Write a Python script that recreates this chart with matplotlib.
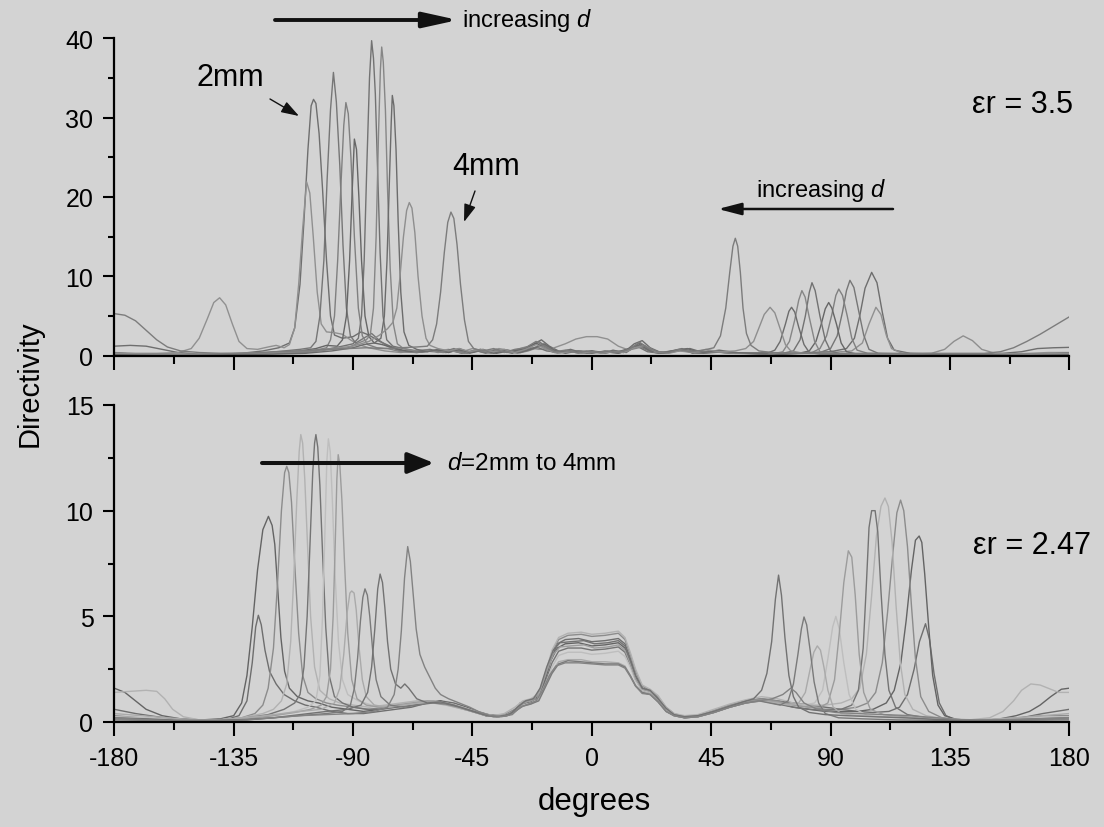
import matplotlib
matplotlib.use("Agg")
import matplotlib.pyplot as plt
from matplotlib.patches import FancyArrowPatch
from matplotlib.ticker import MultipleLocator

# ---- eps_r = 3.5 (top panel): (angle deg, directivity) ----
T1 = [(-180, 1.2), (-174, 1.3), (-168, 1.2), (-162, 0.8), (-156, 0.4), (-148, 0.2), (-140, 0.2), (-132, 0.3),
      (-124, 0.6), (-118, 1.0), (-114, 1.6), (-112, 3.5), (-110, 9), (-108.5, 17), (-107, 26), (-105.8, 31.5),
      (-104.9, 32.3), (-104, 31.8), (-102.8, 28), (-101.5, 21), (-100, 12), (-98.5, 5), (-97, 2.6), (-94, 2.2),
      (-90, 2.4), (-87, 3.0), (-84, 2.6), (-80, 1.8), (-76, 1.2), (-72, 0.6), (-66, 0.4), (-60, 0.6), (-55, 0.4),
      (-50, 0.7), (-46, 0.3), (-42, 0.8), (-38, 0.4), (-34, 0.6), (-30, 0.3), (-26, 0.9), (-22, 1.4), (-19, 2.0),
      (-16, 1.2), (-12, 0.5), (-8, 0.8), (-4, 0.4), (0, 0.6), (4, 0.3), (8, 0.7), (12, 0.4), (16, 1.5), (19, 1.9),
      (22, 1.0), (26, 0.4), (30, 0.6), (34, 0.9), (38, 0.3), (44, 0.6), (50, 0.4), (58, 0.3), (66, 0.4), (74, 0.3),
      (82, 0.4), (90, 0.5), (96, 0.9), (99, 2.2), (101, 5), (103, 8.5), (105.5, 10.5), (107.5, 9.2), (109.5, 5.5),
      (111.5, 2.2), (114, 0.7), (120, 0.3), (130, 0.2), (145, 0.2), (155, 0.3), (162, 0.5), (168, 0.9), (174, 1.0),
      (180, 1.05)]
T2 = [(-180, 0.4), (-172, 0.3), (-164, 0.3), (-156, 0.4), (-151, 0.9), (-148, 2.2), (-145, 4.6), (-142.5, 6.7),
      (-140.3, 7.3), (-138, 6.4), (-135.5, 4.0), (-133, 1.8), (-130, 0.9), (-126, 0.8), (-122, 1.1), (-119, 1.3),
      (-116, 1.0), (-114, 1.4), (-112, 3.5), (-110.5, 9), (-109, 16), (-107.5, 21.9), (-106.3, 20.5), (-105, 15),
      (-103.5, 8), (-102, 4), (-100, 3.0), (-97, 2.9), (-94, 2.7), (-91, 2.0), (-88, 1.4), (-84, 1.0), (-78, 0.6),
      (-72, 0.4), (-66, 0.7), (-60, 0.5), (-54, 0.8), (-50, 0.4), (-45, 0.9), (-40, 0.5), (-35, 0.9), (-30, 0.6),
      (-25, 1.1), (-20, 0.8), (-15, 0.9), (-10, 1.5), (-6, 2.1), (-2, 2.4), (2, 2.4), (6, 2.1), (10, 1.2), (14, 0.7),
      (18, 1.3), (22, 0.6), (28, 0.4), (33, 0.7), (38, 0.4), (45, 0.5), (52, 0.4), (60, 0.3), (70, 0.3), (80, 0.3),
      (90, 0.4), (98, 0.6), (102, 1.6), (104.5, 4.0), (107.1, 6.1), (109, 5.2), (111, 2.6), (113, 0.9), (117, 0.3),
      (125, 0.2), (140, 0.2), (155, 0.2), (165, 0.3), (172, 0.4), (180, 0.4)]
T3 = [(-180, 0.3), (-170, 0.2), (-160, 0.2), (-150, 0.1), (-140, 0.2), (-130, 0.3), (-122, 0.4), (-116, 0.6),
      (-110, 0.8), (-106, 1.0), (-104, 1.8), (-102.5, 5), (-101, 12), (-99.8, 22), (-98.5, 31), (-97.4, 35.7),
      (-96.3, 32), (-95, 24), (-93.8, 14), (-92.5, 6), (-91, 2.5), (-89, 1.6), (-86, 2.2), (-83, 2.8), (-80, 1.9),
      (-77, 1.2), (-73, 0.7), (-68, 0.5), (-62, 0.6), (-56, 0.5), (-52, 0.9), (-48, 0.4), (-44, 0.7), (-40, 0.3),
      (-36, 0.8), (-32, 0.4), (-28, 0.7), (-24, 0.9), (-20, 1.8), (-17, 1.1), (-13, 0.4), (-9, 0.7), (-5, 0.3),
      (0, 0.5), (5, 0.3), (9, 0.6), (13, 0.4), (17, 1.3), (21, 0.7), (25, 0.3), (30, 0.5), (35, 0.8), (40, 0.3),
      (46, 0.5), (52, 0.3), (60, 0.3), (70, 0.2), (80, 0.3), (86, 0.4), (90, 0.9), (92.5, 2.5), (94.5, 5.5),
      (96, 8.2), (97.3, 9.5), (98.8, 8.6), (100.5, 5.8), (102.5, 2.6), (104.5, 0.8), (108, 0.3), (120, 0.2),
      (135, 0.1), (150, 0.15), (165, 0.2), (180, 0.3)]
T4 = [(-180, 0.2), (-168, 0.15), (-155, 0.1), (-140, 0.15), (-128, 0.2), (-118, 0.3), (-110, 0.5), (-104, 0.7),
      (-100, 1.0), (-98.5, 2.0), (-97, 5), (-95.8, 12), (-94.5, 22), (-93.5, 29), (-92.7, 31.9), (-91.8, 30.5),
      (-90.8, 25), (-89.5, 15), (-88, 6), (-86.5, 2.5), (-84.5, 1.4), (-81, 1.0), (-77, 0.9), (-72, 0.5), (-66, 0.4),
      (-60, 0.6), (-56, 0.4), (-52, 0.7), (-47, 0.3), (-43, 0.6), (-38, 0.3), (-33, 0.7), (-28, 0.4), (-23, 0.8),
      (-18, 1.4), (-14, 0.6), (-9, 0.5), (-4, 0.6), (1, 0.4), (6, 0.5), (11, 0.4), (16, 1.1), (19, 1.4), (23, 0.5),
      (28, 0.3), (34, 0.7), (40, 0.3), (48, 0.5), (56, 0.3), (66, 0.2), (76, 0.3), (83, 0.4), (86, 0.9), (88.5, 2.5),
      (90.5, 5.2), (92, 7.6), (93.1, 8.4), (94.5, 7.6), (96.3, 5.0), (98, 2.2), (100, 0.7), (104, 0.3), (115, 0.2),
      (130, 0.1), (150, 0.1), (165, 0.15), (180, 0.2)]
T5 = [(-180, 0.3), (-170, 0.2), (-160, 0.15), (-150, 0.1), (-140, 0.2), (-128, 0.3), (-118, 0.4), (-110, 0.6),
      (-104, 0.9), (-100, 1.3), (-96, 1.2), (-94, 2.0), (-92.5, 5), (-91.3, 12), (-90.3, 21), (-89.5, 27.3),
      (-88.7, 26), (-87.8, 20), (-86.8, 12), (-85.5, 5), (-84, 2.4), (-82, 1.6), (-79, 1.4), (-75, 1.0), (-70, 0.6),
      (-64, 0.5), (-58, 0.7), (-54, 0.4), (-50, 0.8), (-45, 0.4), (-41, 0.7), (-36, 0.3), (-31, 0.6), (-26, 0.8),
      (-21, 1.6), (-18, 1.0), (-14, 0.4), (-10, 0.6), (-5, 0.4), (0, 0.6), (5, 0.4), (10, 0.5), (15, 1.0), (18, 1.6),
      (22, 0.8), (27, 0.3), (32, 0.6), (36, 0.9), (41, 0.4), (47, 0.6), (54, 0.3), (62, 0.3), (72, 0.2), (78, 0.3),
      (82, 0.6), (84.5, 1.8), (86.5, 4.0), (88, 5.9), (89.3, 6.7), (90.5, 6.0), (92.3, 3.9), (94, 1.6), (96, 0.5),
      (100, 0.2), (115, 0.1), (135, 0.1), (155, 0.15), (170, 0.2), (180, 0.3)]
T6 = [(-180, 0.2), (-165, 0.15), (-150, 0.1), (-135, 0.2), (-120, 0.3), (-108, 0.5), (-100, 0.8), (-94, 1.2),
      (-90, 1.5), (-88, 2.2), (-86.8, 5), (-85.8, 12), (-84.8, 24), (-83.8, 35), (-83.0, 39.7), (-82.3, 37.5),
      (-81.6, 33), (-80.8, 24), (-79.8, 13), (-78.7, 5), (-77.3, 2.0), (-75, 1.2), (-71, 0.9), (-66, 0.6),
      (-61, 0.8), (-57, 0.5), (-53, 0.7), (-49, 0.3), (-44, 0.6), (-39, 0.4), (-35, 0.7), (-30, 0.4), (-25, 0.7),
      (-21, 1.1), (-17, 0.6), (-12, 0.4), (-7, 0.6), (-2, 0.3), (3, 0.5), (8, 0.4), (13, 0.7), (17, 1.2), (21, 0.5),
      (26, 0.3), (31, 0.6), (36, 0.7), (42, 0.3), (50, 0.5), (58, 0.3), (66, 0.2), (72, 0.3), (76, 0.6), (78.5, 2.0),
      (80.5, 5.0), (82, 8.0), (83.0, 9.2), (84.2, 8.2), (86, 5.0), (88, 2.0), (90, 0.6), (94, 0.2), (110, 0.15),
      (130, 0.1), (150, 0.1), (168, 0.15), (180, 0.2)]
T7 = [(-180, 0.2), (-165, 0.2), (-150, 0.15), (-135, 0.2), (-120, 0.3), (-108, 0.4), (-98, 0.8), (-92, 1.0),
      (-88, 1.6), (-85, 2.0), (-83.5, 2.6), (-82.3, 6), (-81.3, 15), (-80.4, 28), (-79.7, 36), (-79.2, 38.9),
      (-78.6, 37), (-77.8, 31), (-77, 21), (-76, 11), (-74.8, 4), (-73.3, 1.5), (-71, 0.9), (-67, 0.6), (-62, 0.7),
      (-58, 0.4), (-53, 0.6), (-48, 0.3), (-43, 0.7), (-38, 0.4), (-33, 0.6), (-28, 0.3), (-24, 0.6), (-19, 1.2),
      (-15, 0.5), (-10, 0.4), (-5, 0.5), (0, 0.4), (5, 0.5), (10, 0.3), (15, 0.8), (19, 1.1), (24, 0.4), (29, 0.5),
      (34, 0.8), (39, 0.4), (46, 0.5), (54, 0.3), (62, 0.3), (68, 0.2), (72, 0.5), (74.5, 1.8), (76.5, 4.5),
      (78, 7.0), (79.2, 8.2), (80.4, 7.4), (82, 4.8), (84, 1.8), (86, 0.5), (90, 0.2), (105, 0.15), (125, 0.1),
      (145, 0.1), (165, 0.15), (180, 0.2)]
T8 = [(-180, 0.15), (-165, 0.1), (-150, 0.1), (-135, 0.15), (-120, 0.2), (-108, 0.3), (-98, 0.6), (-90, 1.0),
      (-86, 1.4), (-82, 1.6), (-79.5, 2.2), (-78.2, 5), (-77.2, 12), (-76.3, 22), (-75.6, 29.5), (-75.2, 32.8),
      (-74.6, 31.5), (-73.8, 26), (-73, 17), (-72, 8), (-70.8, 3), (-69, 1.3), (-66, 0.8), (-62, 0.5), (-58, 0.8),
      (-54, 0.5), (-50, 0.9), (-46, 0.4), (-41, 0.8), (-37, 0.3), (-32, 0.7), (-27, 0.4), (-22, 0.9), (-18, 1.5),
      (-14, 0.7), (-10, 0.3), (-5, 0.6), (0, 0.3), (5, 0.6), (10, 0.3), (15, 0.9), (18, 1.4), (22, 0.6), (27, 0.4),
      (32, 0.7), (37, 0.9), (42, 0.4), (48, 0.7), (54, 0.4), (60, 0.3), (66, 0.3), (69, 0.7), (71, 1.8), (73, 4.0),
      (74.3, 5.6), (75.3, 6.1), (76.5, 5.5), (78, 3.6), (80, 1.4), (82, 0.4), (86, 0.2), (100, 0.15), (120, 0.1),
      (140, 0.1), (160, 0.1), (180, 0.15)]
T9 = [(-180, 0.3), (-165, 0.2), (-150, 0.2), (-135, 0.3), (-120, 0.4), (-108, 0.6), (-98, 0.9), (-90, 1.2),
      (-84, 1.8), (-80, 2.6), (-77, 3.4), (-75, 4.2), (-73.5, 6), (-72.3, 10), (-71, 15), (-69.8, 18.3),
      (-68.8, 19.3), (-67.8, 18.6), (-66.7, 15.5), (-65.5, 10), (-64, 5), (-62.5, 2.2), (-61, 1.3), (-58, 0.9),
      (-54, 0.6), (-50, 0.9), (-46, 0.5), (-42, 0.8), (-37, 0.5), (-33, 0.8), (-29, 0.4), (-25, 0.8), (-21, 1.4),
      (-17, 0.8), (-13, 0.3), (-8, 0.5), (-4, 0.3), (0, 0.5), (4, 0.3), (8, 0.5), (12, 0.4), (16, 1.0), (20, 1.3),
      (24, 0.5), (29, 0.3), (33, 0.6), (38, 0.4), (43, 0.8), (48, 0.5), (54, 0.6), (58, 0.9), (61, 1.8), (63, 3.5),
      (65, 5.2), (67.2, 6.1), (69, 5.4), (71, 3.4), (73, 1.4), (75, 0.6), (80, 0.3), (95, 0.2), (115, 0.2),
      (128, 0.3), (133, 0.8), (136.5, 1.8), (140, 2.5), (143.5, 1.9), (147, 0.8), (152, 0.3), (165, 0.2), (180, 0.3)]
T10 = [(-180, 5.3), (-176, 5.1), (-172, 4.4), (-168, 3.2), (-164, 2.0), (-160, 1.1), (-155, 0.6), (-148, 0.4),
       (-140, 0.3), (-130, 0.3), (-120, 0.5), (-110, 0.6), (-100, 0.8), (-92, 0.9), (-85, 1.0), (-78, 0.9),
       (-72, 1.0), (-66, 1.1), (-62, 1.2), (-60, 2.0), (-58.5, 4), (-57, 8), (-55.6, 13), (-54.3, 16.8),
       (-53.1, 18.1), (-52, 17.3), (-50.8, 14), (-49.5, 9), (-48, 4.5), (-46.5, 1.8), (-44.5, 0.9), (-41, 0.6),
       (-37, 0.9), (-33, 0.4), (-29, 0.8), (-25, 1.0), (-21, 1.8), (-18, 1.2), (-14, 0.5), (-10, 0.7), (-6, 0.4),
       (-2, 0.6), (2, 0.4), (6, 0.6), (10, 0.4), (14, 0.8), (18, 1.7), (21, 1.0), (25, 0.5), (29, 0.4), (33, 0.8),
       (37, 0.5), (42, 0.7), (46, 1.0), (48.5, 2.5), (50.5, 6), (52, 10.5), (53.2, 13.8), (54.1, 14.8), (55, 13.8),
       (56, 10.5), (57, 6), (58.3, 2.8), (60, 1.3), (63, 0.6), (68, 0.4), (76, 0.3), (90, 0.3), (105, 0.3),
       (120, 0.3), (135, 0.3), (148, 0.3), (154, 0.5), (159, 1.0), (164, 1.8), (169, 2.7), (174, 3.7), (178, 4.5),
       (180, 4.9)]

# ---- eps_r = 2.47 (bottom panel) ----
B1 = [(-180, 0.6), (-172, 0.4), (-164, 0.25), (-155, 0.1), (-146, 0.05), (-138, 0.1), (-133, 0.3), (-130, 1.0),
      (-128, 2.8), (-126.7, 4.5), (-125.7, 5.05), (-124.6, 4.6), (-123.2, 3.4), (-121.5, 2.4), (-119, 1.8),
      (-116, 1.3), (-112, 1.0), (-108, 0.8), (-104, 0.7), (-98, 0.5), (-92, 0.4), (-86, 0.4), (-80, 0.5), (-74, 0.6),
      (-68, 0.7), (-62, 0.9), (-57, 1.0), (-52, 0.9), (-47, 0.7), (-43, 0.5), (-39, 0.35), (-35, 0.3), (-31, 0.35),
      (-28, 0.7), (-25, 1.0), (-21, 1.15), (-18, 1.8), (-15.5, 2.9), (-13, 3.7), (-10, 3.9), (-5, 3.95), (0, 3.8),
      (5, 3.85), (10, 3.95), (12.5, 3.7), (14.5, 3.0), (16.5, 2.2), (19, 1.6), (22, 1.45), (25, 1.1), (28, 0.6),
      (31, 0.35), (35, 0.25), (40, 0.3), (46, 0.5), (52, 0.8), (58, 1.0), (64, 1.1), (70, 1.0), (76, 0.9), (82, 0.8),
      (88, 0.7), (94, 0.6), (100, 0.5), (106, 0.45), (112, 0.5), (116, 0.7), (119, 1.3), (121.5, 2.5), (123.5, 3.8),
      (125.8, 4.65), (127.3, 3.9), (129, 2.3), (131, 0.9), (133.5, 0.3), (137, 0.1), (145, 0.05), (153, 0.1),
      (162, 0.2), (170, 0.4), (180, 0.6)]
B2 = [(-180, 1.6), (-176, 1.4), (-172, 1.0), (-168, 0.6), (-162, 0.3), (-155, 0.15), (-147, 0.1), (-140, 0.15),
      (-135, 0.3), (-132, 0.9), (-130, 2.2), (-128, 4.5), (-126, 7.2), (-124, 9.1), (-121.9, 9.73), (-120.5, 9.3),
      (-119.5, 8.4), (-118.5, 6.5), (-117.2, 4.0), (-115.8, 2.4), (-114, 1.6), (-111, 1.2), (-107, 1.0), (-103, 0.9),
      (-98, 0.7), (-92, 0.6), (-86, 0.5), (-80, 0.6), (-74, 0.7), (-68, 0.8), (-62, 0.9), (-57, 1.0), (-53, 0.8),
      (-48, 0.6), (-44, 0.5), (-40, 0.3), (-36, 0.25), (-32, 0.3), (-29, 0.5), (-27, 0.9), (-24, 1.0), (-21, 1.2),
      (-18, 1.9), (-15.5, 2.9), (-13, 3.5), (-10, 3.7), (-5, 3.75), (0, 3.6), (5, 3.65), (10, 3.75), (12.5, 3.5),
      (14.5, 2.8), (16.5, 2.1), (19, 1.55), (22, 1.45), (25, 1.05), (28, 0.6), (31, 0.35), (35, 0.2), (40, 0.3),
      (46, 0.5), (52, 0.75), (58, 0.95), (64, 1.05), (70, 0.9), (76, 0.7), (82, 0.6), (88, 0.5), (94, 0.5),
      (100, 0.5), (106, 0.6), (111, 0.9), (114, 1.5), (116.5, 2.8), (118.5, 4.8), (120.5, 7.2), (122, 8.6),
      (123.4, 8.8), (124.4, 8.5), (125.5, 7.0), (127, 4.5), (128.5, 2.2), (130.5, 0.8), (133, 0.3), (138, 0.1),
      (146, 0.05), (154, 0.15), (160, 0.3), (165, 0.5), (169, 0.8), (173, 1.2), (177, 1.55), (180, 1.6)]
B3 = [(-180, 0.3), (-170, 0.2), (-160, 0.1), (-150, 0.05), (-140, 0.1), (-132, 0.2), (-127, 0.4), (-124, 0.8),
      (-122, 1.6), (-120, 3.5), (-118.5, 6.5), (-117, 10), (-115.8, 11.8), (-115.0, 12.1), (-114.2, 11.8),
      (-113.2, 10.4), (-112, 7.5), (-110.5, 4.2), (-109, 2.2), (-107, 1.4), (-104, 1.1), (-100, 0.9), (-96, 0.8),
      (-90, 0.7), (-84, 0.6), (-78, 0.7), (-72, 0.8), (-66, 0.9), (-60, 1.0), (-55, 0.9), (-50, 0.7), (-45, 0.55),
      (-41, 0.4), (-37, 0.3), (-33, 0.35), (-29, 0.6), (-26, 0.95), (-23, 1.05), (-20, 1.3), (-17.5, 2.2),
      (-15, 3.3), (-12.5, 3.9), (-9, 4.1), (-4, 4.15), (0, 4.05), (5, 4.1), (10, 4.2), (12.5, 3.9), (14.5, 3.2),
      (16.5, 2.4), (19, 1.7), (22, 1.5), (25, 1.2), (28, 0.7), (31, 0.4), (35, 0.25), (40, 0.3), (46, 0.55),
      (52, 0.8), (58, 1.0), (64, 1.1), (70, 1.0), (76, 0.8), (82, 0.7), (88, 0.6), (94, 0.6), (100, 0.7), (104, 0.9),
      (107, 1.4), (109.5, 2.8), (111.5, 5.2), (113.5, 8.0), (115, 9.9), (116.4, 10.5), (117.6, 10.0), (119, 8.3),
      (120.5, 5.5), (122, 3.0), (124, 1.2), (127, 0.5), (132, 0.2), (140, 0.1), (150, 0.1), (160, 0.2), (170, 0.3),
      (180, 0.3)]
B4 = [(-180, 1.4), (-174, 1.45), (-168, 1.5), (-164, 1.45), (-161, 1.1), (-158, 0.6), (-154, 0.25), (-148, 0.1),
      (-140, 0.1), (-132, 0.2), (-124, 0.4), (-120, 0.6), (-117, 1.0), (-115, 1.8), (-113.5, 3.8), (-112.3, 7),
      (-111.2, 10.5), (-110.3, 12.8), (-109.7, 13.6), (-109.0, 13.2), (-108.2, 11.5), (-107.2, 8.5), (-106, 5),
      (-104.5, 2.6), (-102.5, 1.5), (-99, 1.1), (-95, 0.9), (-90, 0.8), (-84, 0.7), (-78, 0.8), (-72, 0.9),
      (-66, 1.0), (-60, 1.0), (-55, 0.9), (-50, 0.75), (-45, 0.55), (-41, 0.4), (-37, 0.3), (-33, 0.4), (-29, 0.7),
      (-26, 1.0), (-23, 1.1), (-20, 1.35), (-17.5, 2.3), (-15, 3.4), (-12.5, 4.0), (-9, 4.2), (-4, 4.25), (0, 4.15),
      (5, 4.2), (10, 4.3), (12.5, 4.0), (14.5, 3.3), (16.5, 2.5), (19, 1.75), (22, 1.55), (25, 1.25), (28, 0.7),
      (31, 0.4), (35, 0.3), (40, 0.35), (46, 0.6), (52, 0.85), (58, 1.05), (64, 1.2), (70, 1.1), (76, 0.9),
      (82, 0.8), (88, 0.8), (94, 0.9), (98, 1.1), (101, 1.6), (103.5, 3.2), (105.5, 6), (107.3, 8.8), (109, 10.2),
      (110.5, 10.6), (111.8, 10.2), (113.2, 8.5), (114.7, 5.5), (116.3, 2.8), (118, 1.3), (121, 0.6), (126, 0.3),
      (133, 0.15), (142, 0.1), (150, 0.2), (155, 0.5), (159, 1.0), (162, 1.5), (165.5, 1.8), (169, 1.75),
      (172, 1.6), (176, 1.4), (180, 1.4)]
B5 = [(-180, 0.2), (-170, 0.15), (-160, 0.1), (-150, 0.05), (-140, 0.1), (-130, 0.2), (-122, 0.35), (-116, 0.6),
      (-112, 0.9), (-110, 1.3), (-108.5, 2.6), (-107.3, 5), (-106.2, 8.5), (-105.2, 11.8), (-104.5, 13.2),
      (-104.0, 13.6), (-103.3, 13.0), (-102.5, 11.2), (-101.5, 8), (-100.3, 4.5), (-99, 2.2), (-97, 1.2), (-94, 0.9),
      (-90, 0.7), (-85, 0.6), (-80, 0.6), (-74, 0.7), (-68, 0.8), (-63, 0.9), (-58, 0.9), (-53, 0.8), (-48, 0.6),
      (-44, 0.45), (-40, 0.3), (-36, 0.25), (-32, 0.3), (-29, 0.5), (-26, 0.85), (-23, 0.95), (-20, 1.15),
      (-17.5, 1.9), (-15, 2.8), (-12.5, 3.35), (-9, 3.5), (-4, 3.5), (0, 3.4), (5, 3.45), (10, 3.55), (12.5, 3.3),
      (14.5, 2.7), (16.5, 2.0), (19, 1.5), (22, 1.4), (25, 1.0), (28, 0.55), (31, 0.3), (35, 0.2), (40, 0.25),
      (46, 0.45), (52, 0.7), (58, 0.9), (64, 1.0), (70, 0.85), (76, 0.7), (82, 0.6), (88, 0.55), (94, 0.6),
      (98, 0.8), (100.5, 1.5), (102.3, 3.5), (103.5, 6.5), (104.5, 9.2), (105.5, 10.0), (106.8, 10.0), (107.8, 9.0),
      (109, 6.2), (110.5, 3.2), (112, 1.5), (114.5, 0.7), (119, 0.35), (126, 0.2), (134, 0.1), (145, 0.05),
      (155, 0.1), (168, 0.15), (180, 0.2)]
B6 = [(-180, 0.25), (-168, 0.2), (-155, 0.1), (-142, 0.1), (-130, 0.2), (-120, 0.3), (-112, 0.5), (-107, 0.7),
      (-104, 1.0), (-102.5, 2.2), (-101.5, 5), (-100.6, 9), (-99.9, 12.3), (-99.3, 13.4), (-98.6, 12.8),
      (-97.8, 10.5), (-96.8, 7), (-95.5, 3.8), (-94, 2.0), (-92, 1.3), (-88, 1.0), (-83, 0.8), (-77, 0.7), (-71, 0.8),
      (-65, 0.9), (-60, 0.9), (-55, 0.85), (-50, 0.65), (-45, 0.5), (-41, 0.35), (-37, 0.25), (-33, 0.3), (-29, 0.5),
      (-26, 0.8), (-23, 0.9), (-20, 1.1), (-17.5, 1.8), (-15, 2.6), (-12.5, 3.15), (-9, 3.3), (-4, 3.3), (0, 3.2),
      (5, 3.25), (10, 3.35), (12.5, 3.1), (14.5, 2.6), (16.5, 1.95), (19, 1.5), (22, 1.4), (25, 1.0), (28, 0.55),
      (31, 0.3), (35, 0.2), (40, 0.25), (46, 0.45), (52, 0.7), (58, 0.9), (64, 1.0), (70, 0.9), (76, 0.8), (80, 0.8),
      (84, 0.9), (87, 1.5), (89, 3.0), (90.8, 4.5), (92, 5.0), (93.3, 4.4), (95, 2.8), (97, 1.3), (99.5, 0.6),
      (104, 0.3), (112, 0.2), (125, 0.15), (138, 0.1), (150, 0.1), (165, 0.2), (180, 0.25)]
B7 = [(-180, 0.15), (-168, 0.1), (-155, 0.05), (-142, 0.1), (-130, 0.15), (-120, 0.3), (-112, 0.45), (-106, 0.6),
      (-102, 0.8), (-100, 1.2), (-98.5, 2.5), (-97.5, 5), (-96.7, 8.5), (-96.1, 11.5), (-95.6, 12.65), (-95.0, 12.2),
      (-94.2, 10.5), (-93.2, 7.5), (-92, 4.2), (-90.5, 2.0), (-88.5, 1.1), (-85, 0.8), (-80, 0.7), (-74, 0.8),
      (-68, 0.9), (-62, 1.0), (-57, 0.95), (-52, 0.8), (-47, 0.6), (-43, 0.45), (-39, 0.3), (-35, 0.25), (-31, 0.35),
      (-28, 0.65), (-25, 0.95), (-22, 1.05), (-19.5, 1.5), (-17, 2.4), (-14.5, 3.2), (-12, 3.55), (-8, 3.6),
      (-3, 3.65), (1, 3.5), (6, 3.55), (10, 3.65), (12.5, 3.4), (14.5, 2.75), (16.5, 2.05), (19, 1.55), (22, 1.45),
      (25, 1.05), (28, 0.6), (31, 0.35), (35, 0.25), (40, 0.3), (46, 0.5), (52, 0.75), (58, 0.95), (64, 1.05),
      (70, 0.95), (76, 0.8), (82, 0.7), (86, 0.7), (89, 0.9), (91.5, 2.0), (93.3, 4.2), (95, 6.6), (96.7, 8.1),
      (98, 7.8), (99.3, 6.0), (100.8, 3.2), (102.5, 1.4), (105, 0.6), (110, 0.35), (118, 0.25), (128, 0.15),
      (140, 0.1), (152, 0.05), (166, 0.1), (180, 0.15)]
B8 = [(-180, 0.4), (-170, 0.3), (-160, 0.2), (-150, 0.1), (-140, 0.1), (-130, 0.2), (-120, 0.35), (-110, 0.5),
      (-102, 0.6), (-97, 0.9), (-95, 1.6), (-93.5, 3.2), (-92.2, 5.2), (-91.2, 6.1), (-90.5, 6.2), (-89.6, 6.1),
      (-88.8, 5.3), (-87.8, 3.6), (-86.5, 2.0), (-85, 1.2), (-82, 0.8), (-77, 0.7), (-71, 0.8), (-65, 0.9),
      (-60, 0.9), (-55, 0.8), (-50, 0.65), (-45, 0.5), (-41, 0.35), (-37, 0.25), (-33, 0.3), (-29, 0.5), (-26, 0.75),
      (-23, 0.85), (-20, 1.05), (-17.5, 1.7), (-15, 2.4), (-12.5, 2.85), (-9, 2.95), (-4, 2.95), (0, 2.85),
      (5, 2.85), (10, 2.8), (12.5, 2.65), (14.5, 2.2), (16.5, 1.75), (19, 1.4), (22, 1.35), (25, 0.95), (28, 0.5),
      (31, 0.3), (35, 0.2), (40, 0.25), (46, 0.45), (52, 0.7), (58, 0.9), (64, 1.0), (70, 0.9), (74, 0.8), (78, 0.9),
      (80.5, 1.4), (82.3, 2.5), (83.7, 3.3), (85, 3.6), (86.2, 3.4), (87.5, 2.6), (89, 1.5), (91, 0.7), (94, 0.4),
      (100, 0.3), (110, 0.25), (120, 0.2), (132, 0.15), (145, 0.1), (160, 0.2), (170, 0.3), (180, 0.4)]
B9 = [(-180, 0.1), (-168, 0.08), (-155, 0.05), (-142, 0.05), (-130, 0.1), (-120, 0.2), (-110, 0.3), (-100, 0.4),
      (-94, 0.5), (-91, 0.8), (-89.5, 1.6), (-88.3, 3.0), (-87.2, 4.8), (-86.3, 5.9), (-85.5, 6.3), (-84.6, 6.0),
      (-83.7, 5.0), (-82.6, 3.4), (-81.3, 2.0), (-79.5, 1.2), (-76, 0.8), (-71, 0.7), (-66, 0.8), (-60, 0.9),
      (-55, 0.85), (-50, 0.7), (-45, 0.5), (-41, 0.35), (-37, 0.25), (-33, 0.3), (-29, 0.5), (-26, 0.75), (-23, 0.85),
      (-20, 1.0), (-17.5, 1.65), (-15, 2.3), (-12.5, 2.75), (-9, 2.9), (-4, 2.85), (0, 2.8), (5, 2.75), (10, 2.75),
      (12.5, 2.6), (14.5, 2.2), (16.5, 1.7), (19, 1.4), (22, 1.3), (25, 0.95), (28, 0.5), (31, 0.3), (35, 0.2),
      (40, 0.25), (46, 0.45), (52, 0.7), (58, 0.9), (63, 1.0), (67, 0.9), (71, 0.8), (74, 1.0), (76, 1.8),
      (77.7, 3.2), (79, 4.4), (80, 4.97), (81, 4.6), (82.3, 3.4), (83.8, 1.9), (85.5, 0.9), (88, 0.4), (93, 0.2),
      (102, 0.15), (115, 0.1), (130, 0.08), (145, 0.05), (160, 0.08), (180, 0.1)]
B10 = [(-180, 0.2), (-168, 0.15), (-155, 0.08), (-142, 0.08), (-130, 0.12), (-120, 0.2), (-110, 0.35), (-100, 0.5),
       (-92, 0.6), (-87, 0.8), (-84.5, 1.4), (-83, 2.6), (-81.8, 4.4), (-80.7, 6.3), (-79.8, 7.0), (-78.9, 6.6),
       (-78, 5.4), (-77, 3.8), (-75.8, 2.5), (-74, 1.8), (-72, 1.6), (-70.5, 1.8), (-69, 1.6), (-66, 1.1), (-62, 0.9),
       (-57, 0.95), (-52, 0.8), (-47, 0.6), (-43, 0.45), (-39, 0.3), (-35, 0.25), (-31, 0.35), (-28, 0.7),
       (-25, 1.0), (-22, 1.1), (-19.5, 1.6), (-17, 2.6), (-14.5, 3.4), (-12, 3.75), (-8, 3.8), (-3, 3.85), (1, 3.7),
       (6, 3.75), (10, 3.85), (12.5, 3.6), (14.5, 2.95), (16.5, 2.2), (19, 1.6), (22, 1.5), (25, 1.1), (28, 0.65),
       (31, 0.35), (35, 0.25), (40, 0.3), (46, 0.5), (52, 0.75), (57, 0.95), (61, 1.1), (64, 1.5), (66, 2.3),
       (67.8, 3.8), (69.2, 5.8), (70.4, 6.95), (71.5, 6.0), (72.8, 4.0), (74.3, 2.2), (76, 1.2), (78, 0.7),
       (82, 0.45), (88, 0.35), (96, 0.3), (106, 0.25), (118, 0.2), (130, 0.12), (145, 0.08), (160, 0.12), (180, 0.2)]
B11 = [(-180, 0.2), (-168, 0.1), (-155, 0.05), (-142, 0.05), (-130, 0.1), (-120, 0.2), (-110, 0.3), (-100, 0.35),
       (-90, 0.4), (-82, 0.5), (-77, 0.7), (-74.5, 1.3), (-73, 2.5), (-71.8, 4.3), (-70.6, 6.8), (-69.4, 8.3),
       (-68.4, 7.6), (-67.3, 6.0), (-66.2, 4.4), (-64.8, 3.2), (-63, 2.6), (-61, 2.1), (-59, 1.6), (-57, 1.3),
       (-54, 1.1), (-50, 0.9), (-46, 0.7), (-42, 0.45), (-38, 0.3), (-34, 0.25), (-30, 0.35), (-27, 0.7), (-24, 0.85),
       (-21, 1.0), (-18.5, 1.5), (-16, 2.2), (-13.5, 2.65), (-10, 2.8), (-5, 2.8), (0, 2.75), (5, 2.7), (10, 2.7),
       (12.5, 2.55), (14.5, 2.15), (16.5, 1.7), (19, 1.35), (22, 1.3), (25, 0.95), (28, 0.5), (31, 0.3), (35, 0.2),
       (40, 0.25), (46, 0.45), (52, 0.7), (58, 0.9), (63, 1.0), (68, 1.1), (72, 1.3), (75, 1.6), (77, 1.4),
       (80, 0.9), (85, 0.6), (92, 0.45), (100, 0.4), (110, 0.35), (120, 0.3), (130, 0.2), (140, 0.1), (155, 0.1),
       (168, 0.15), (180, 0.2)]

TOP_CURVES = [T1, T2, T3, T4, T5, T6, T7, T8, T9, T10]
TOP_GRAYS = ["#6e6e6e", "#909090", "#767676", "#808080", "#666666", "#727272", "#868686", "#6c6c6c", "#8e8e8e",
             "#7c7c7c"]
BOT_CURVES = [B1, B2, B3, B4, B5, B6, B7, B8, B9, B10, B11]
BOT_GRAYS = ["#6e6e6e", "#646464", "#8c8c8c", "#b2b2b2", "#747474", "#bebebe", "#9c9c9c", "#aaaaaa", "#7a7a7a",
             "#727272", "#828282"]

BG = "#d3d3d3"
W, H = 1104, 828

plt.rcParams["font.family"] = ["Liberation Sans", "DejaVu Sans"]
plt.rcParams["axes.unicode_minus"] = False
plt.rcParams["mathtext.fontset"] = "custom"
plt.rcParams["mathtext.it"] = "Liberation Sans:italic"
plt.rcParams["mathtext.rm"] = "Liberation Sans"


def px(x, y):
    # image pixel (from top-left) -> figure fraction
    return x / W, 1 - y / H


def arrow(p0, p1, lw, head_len, head_w, ms):
    fig.add_artist(FancyArrowPatch(px(*p0), px(*p1), transform=fig.transFigure,
                                   arrowstyle=f"-|>,head_length={head_len},head_width={head_w}",
                                   mutation_scale=ms, lw=lw, color="#111111", shrinkA=0, shrinkB=0))


fig = plt.figure(figsize=(W / 100, H / 100), dpi=100)
fig.patch.set_facecolor(BG)
ax1 = fig.add_axes([114.3 / W, 1 - 356.7 / H, 955 / W, 317.4 / H])
ax2 = fig.add_axes([114.3 / W, 1 - 723 / H, 955 / W, 317 / H])

for ax, curves, grays, ymax, ymaj in ((ax1, TOP_CURVES, TOP_GRAYS, 40, 10), (ax2, BOT_CURVES, BOT_GRAYS, 15, 5)):
    ax.set_facecolor(BG)
    for cur, g in zip(curves, grays):
        xs, ys = zip(*cur)
        ax.plot(xs, ys, color=g, lw=1.0)
    ax.set_xlim(-180, 180)
    ax.set_ylim(0, ymax)
    ax.spines[["top", "right"]].set_visible(False)
    ax.spines[["left", "bottom"]].set_linewidth(1.6)
    ax.xaxis.set_major_locator(MultipleLocator(45))
    ax.xaxis.set_minor_locator(MultipleLocator(22.5))
    ax.yaxis.set_major_locator(MultipleLocator(ymaj))
    ax.yaxis.set_minor_locator(MultipleLocator(ymaj / 2))
    ax.tick_params(axis="x", which="major", length=10, width=1.5, direction="out", labelsize=18, pad=7)
    ax.tick_params(axis="x", which="minor", length=5.5, width=1.5, direction="out")
    ax.tick_params(axis="y", which="major", length=8, width=1.5, direction="out", labelsize=18, pad=7)
    ax.tick_params(axis="y", which="minor", length=4, width=1.5, direction="out")

ax1.tick_params(axis="x", labelbottom=False)

fig.text(*px(30, 384), "Directivity", rotation=90, ha="center", va="center", fontsize=21)
fig.text(*px(594, 802), "degrees", ha="center", va="center", fontsize=22.5)

# annotations, top panel
arrow((275, 21), (458, 21), 2.8, 1.0, 0.22, 21)
fig.text(*px(462, 21), "increasing $d$", ha="left", va="center", fontsize=17)
fig.text(*px(196, 78), "2mm", ha="left", va="center", fontsize=22)
arrow((270, 100), (299, 117), 1.0, 0.9, 0.3, 12)
fig.text(*px(452, 167), "4mm", ha="left", va="center", fontsize=22)
arrow((475, 192), (464, 223), 1.0, 0.9, 0.3, 12)
fig.text(*px(972, 105), "εr = 3.5", ha="left", va="center", fontsize=22)
fig.text(*px(756, 190), "increasing $d$", ha="left", va="center", fontsize=17)
arrow((893, 210), (718, 210), 1.8, 1.0, 0.26, 14)

# annotations, bottom panel
arrow((262, 464), (434, 464), 2.9, 1.0, 0.4, 16)
fig.text(*px(447, 464), "$d$=2mm to 4mm", ha="left", va="center", fontsize=17.5)
fig.text(*px(973, 546), "εr = 2.47", ha="left", va="center", fontsize=22)

fig.savefig("out.png", dpi=100, facecolor=BG)
